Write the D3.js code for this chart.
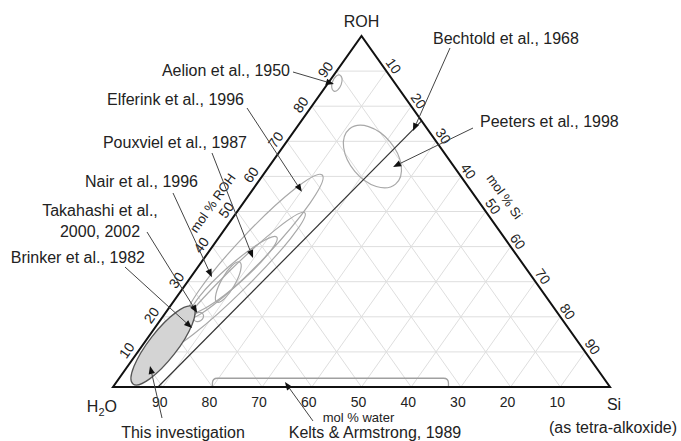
<!DOCTYPE html>
<html>
<head>
<meta charset="utf-8">
<script src="https://cdn.jsdelivr.net/npm/d3@7"></script>
<style>
  body { margin: 0; background: #fff; }
  svg { display: block; font-family: Arial, "Liberation Sans", Helvetica, sans-serif; }
</style>
</head>
<body>
<div id="chart"></div>
<script>
// ternary values are mol % : [ROH, Si], water = 100 - ROH - Si
const gridValues = [10, 20, 30, 40, 50, 60, 70, 80, 90];

const regionNames = ['Aelion', 'Elferink', 'Brinker', 'Pouxviel', 'Nair', 'Takahashi', 'This investigation', 'Peeters'];
const regionStart = [[88.9, 1.2], [19.7, 5.1], [11.1, 5.5], [21.4, 5.2], [24.2, 8.8], [19.1, 6.75], [0.85, 3.6], [73.5, 10.8]];
const regionEnd   = [[84.3, 2.3], [60.4, 11.9], [49.6, 13.8], [42.7, 11.6], [35.6, 7.7], [20.8, 7.7], [22.8, 4.7], [57.8, 27.95]];
const regionWidth = [0.53, 0.15, 0.12, 0.17, 0.3, 0.8, 0.29, 0.64];

// Bechtold et al. 1968: straight boundary
const bechtoldLine = [[0, 9.05], [75.8, 24.2]];
// Kelts & Armstrong 1989: band along the water-Si edge
const keltsWater = [80, 32.5];
const keltsRoh = [0, 2.5];

const labelText = [
  ['Aelion et al., 1950'], ['Elferink et al., 1996'], ['Pouxviel et al., 1987'], ['Nair et al., 1996'],
  ['Takahashi et al.,', '2000, 2002'], ['Brinker et al., 1982'], ['This investigation'],
  ['Kelts & Armstrong, 1989'], ['Bechtold et al., 1968'], ['Peeters et al., 1998']
];
const arrowTip = [[86.3, 1.3], [55.6, 10.2], [36.75, 9.8], [31.3, 4.25], [21.1, 6.4], [16.8, 7.5], [6.0, 4.45], [1.4, 33.9], [72.9, 23.9], [62.7, 25.0]];

// label layout: text x, baseline y, anchor, leader start
const labelLayout = [
  { x: 290, y: 76, anchor: 'end', lx: 293, ly: 72 },
  { x: 244, y: 105, anchor: 'end', lx: 247, ly: 108 },
  { x: 247, y: 148, anchor: 'end', lx: 212, ly: 153 },
  { x: 198, y: 187, anchor: 'end', lx: 173, ly: 193 },
  { x: 100, y: 216, anchor: 'middle', lx: 147, ly: 232 },
  { x: 145, y: 263, anchor: 'end', lx: 125, ly: 267 },
  { x: 183, y: 438, anchor: 'middle', lx: 162, ly: 418 },
  { x: 375, y: 438, anchor: 'middle', lx: 313, ly: 421 },
  { x: 433, y: 44, anchor: 'start', lx: 450, ly: 48 },
  { x: 480, y: 127, anchor: 'start', lx: 473, ly: 128 }
];

const width = 681, height = 441;
const siScale = d3.scaleLinear().domain([0, 100]).range([113, 610]);
const rohScale = d3.scaleLinear().domain([0, 100]).range([387, 36]);
function project(roh, si) { return [siScale(si + roh / 2), rohScale(roh)]; }

const svg = d3.select('#chart').append('svg')
  .attr('width', width)
  .attr('height', height);

const line = d3.line();

//@grid
const grid = svg.append('g').attr('stroke', '#dedede').attr('stroke-width', 1).attr('fill', 'none');
gridValues.forEach(v => {
  grid.append('path').attr('d', line([project(v, 0), project(v, 100 - v)]));
  grid.append('path').attr('d', line([project(0, v), project(100 - v, v)]));
  grid.append('path').attr('d', line([project(0, 100 - v), project(100 - v, 0)]));
});

//@Kelts band
const kx1 = siScale(100 - keltsWater[0]), kx2 = siScale(100 - keltsWater[1]);
const ky0 = rohScale(keltsRoh[0]), ky1 = rohScale(keltsRoh[1]);
const kr = 5;
svg.append('path')
  .attr('d', `M${kx1},${ky0} L${kx1},${ky1 + kr} Q${kx1},${ky1} ${kx1 + kr},${ky1} L${kx2 - kr},${ky1} Q${kx2},${ky1} ${kx2},${ky1 + kr} L${kx2},${ky0}`)
  .attr('fill', 'none')
  .attr('stroke', '#a0a0a0')
  .attr('stroke-width', 1.3);

//@regions
const regions = svg.append('g');
regionNames.forEach((name, i) => {
  const p1 = project(...regionStart[i]);
  const p2 = project(...regionEnd[i]);
  const cx = (p1[0] + p2[0]) / 2, cy = (p1[1] + p2[1]) / 2;
  const a = Math.hypot(p2[0] - p1[0], p2[1] - p1[1]) / 2;
  const ang = Math.atan2(p2[1] - p1[1], p2[0] - p1[0]) * 180 / Math.PI;
  const mine = name === 'This investigation';
  regions.append('ellipse')
    .attr('cx', cx).attr('cy', cy)
    .attr('rx', a).attr('ry', a * regionWidth[i])
    .attr('transform', `rotate(${ang} ${cx} ${cy})`)
    .attr('fill', mine ? '#d4d4d4' : 'none')
    .attr('stroke', mine ? '#555' : '#a8a8a8')
    .attr('stroke-width', mine ? 1.3 : 1.2);
});

svg.append('path')
  .attr('d', line(bechtoldLine.map(d => project(...d))))
  .attr('stroke', '#333')
  .attr('stroke-width', 1.2)
  .attr('fill', 'none');

//@triangle
svg.append('path')
  .attr('d', line([project(0, 0), project(0, 100), project(100, 0)]) + 'Z')
  .attr('fill', 'none')
  .attr('stroke', '#111')
  .attr('stroke-width', 2)
  .attr('stroke-linejoin', 'miter');

//@tick labels
const H = project(0, 0), S = project(0, 100), R = project(100, 0);
const edgeLen = Math.hypot(R[0] - H[0], R[1] - H[1]);
const leftDir = [(R[0] - H[0]) / edgeLen, (R[1] - H[1]) / edgeLen];
const rightDir = [(S[0] - R[0]) / edgeLen, (S[1] - R[1]) / edgeLen];
const leftNorm = [leftDir[1], -leftDir[0]];
const rightNorm = [rightDir[1], -rightDir[0]];
const leftAng = Math.atan2(leftDir[1], leftDir[0]) * 180 / Math.PI;
const rightAng = Math.atan2(rightDir[1], rightDir[0]) * 180 / Math.PI;

const tickG = svg.append('g').attr('font-size', 14).attr('fill', '#222');
gridValues.forEach(v => {
  const [bx, by] = project(0, 100 - v);
  tickG.append('text').attr('x', bx - 3).attr('y', by + 20).attr('text-anchor', 'middle').text(v);

  const [lx, ly] = project(v - 1.2, 0);
  const tx = lx + leftNorm[0] * 10, ty = ly + leftNorm[1] * 10;
  tickG.append('text').attr('x', tx).attr('y', ty)
    .attr('text-anchor', 'middle').attr('dominant-baseline', 'central')
    .attr('transform', `rotate(${leftAng} ${tx} ${ty})`).text(v);

  const [rx, ry] = project(100 - v, v);
  const ux = rx + rightNorm[0] * 9, uy = ry + rightNorm[1] * 9;
  tickG.append('text').attr('x', ux).attr('y', uy)
    .attr('text-anchor', 'middle').attr('dominant-baseline', 'central')
    .attr('transform', `rotate(${rightAng} ${ux} ${uy})`).text(v);
});

//@axis titles
const titleG = svg.append('g').attr('font-size', 13).attr('fill', '#222').attr('text-anchor', 'middle');
titleG.append('text').attr('x', siScale(50) - 3).attr('y', 422).text('mol % water');
{
  const [px, py] = project(48.3, 0);
  const tx = px + leftNorm[0] * 25, ty = py + leftNorm[1] * 25;
  titleG.append('text').attr('x', tx).attr('y', ty).attr('dominant-baseline', 'central')
    .attr('transform', `rotate(${leftAng} ${tx} ${ty})`).text('mol % ROH');
  const [qx, qy] = project(100 - 49.7, 49.7);
  const ux = qx + rightNorm[0] * 24, uy = qy + rightNorm[1] * 24;
  titleG.append('text').attr('x', ux).attr('y', uy).attr('dominant-baseline', 'central')
    .attr('transform', `rotate(${rightAng} ${ux} ${uy})`).text('mol % Si');
}

//@vertex labels
const vG = svg.append('g').attr('font-size', 16).attr('fill', '#222');
vG.append('text').attr('x', R[0]).attr('y', R[1] - 9).attr('text-anchor', 'middle').text('ROH');
const h2o = vG.append('text').attr('x', H[0] + 4).attr('y', H[1] + 25).attr('text-anchor', 'end');
h2o.append('tspan').text('H');
h2o.append('tspan').attr('font-size', 11).attr('dy', 4).text('2');
h2o.append('tspan').attr('dy', -4).text('O');
vG.append('text').attr('x', S[0] + 4).attr('y', S[1] + 23).attr('text-anchor', 'middle').text('Si');
vG.append('text').attr('x', S[0] + 3).attr('y', S[1] + 46).attr('text-anchor', 'middle').text('(as tetra-alkoxide)');

//@annotations
const annG = svg.append('g');
labelText.forEach((lines, i) => {
  const L = labelLayout[i];
  const t = annG.append('text')
    .attr('font-size', 16).attr('fill', '#222')
    .attr('text-anchor', L.anchor);
  lines.forEach((s, k) => {
    t.append('tspan').attr('x', L.x).attr('y', L.y + k * 21).text(s);
  });
  const [px, py] = project(...arrowTip[i]);
  const dx = px - L.lx, dy = py - L.ly;
  const len = Math.hypot(dx, dy);
  const ux = dx / len, uy = dy / len;
  const headLen = 8, headW = 3.2;
  annG.append('path')
    .attr('d', line([[L.lx, L.ly], [px - ux * headLen, py - uy * headLen]]))
    .attr('stroke', '#444').attr('stroke-width', 1).attr('fill', 'none');
  const bx = px - ux * headLen, by = py - uy * headLen;
  annG.append('path')
    .attr('d', line([[px, py], [bx - uy * headW, by + ux * headW], [bx + uy * headW, by - ux * headW]]) + 'Z')
    .attr('fill', '#111');
});
</script>
</body>
</html>
